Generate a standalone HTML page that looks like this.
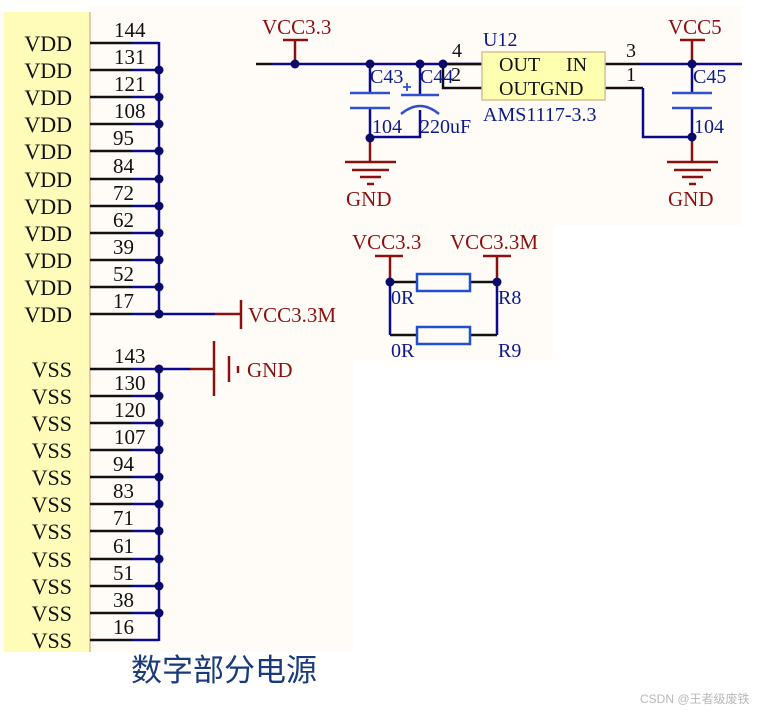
<!DOCTYPE html>
<html><head><meta charset="utf-8"><style>
html,body{margin:0;padding:0;background:#fff;width:777px;height:712px;overflow:hidden}
svg{display:block}
.s{font-family:"Liberation Serif",serif}
</style></head><body>
<svg width="777" height="712" viewBox="0 0 777 712" xmlns="http://www.w3.org/2000/svg">
<rect x="0" y="12" width="353" height="640" fill="#fffcf8"/>
<rect x="90" y="6" width="652" height="219" fill="#fffcf8"/>
<rect x="353" y="225" width="200" height="135" fill="#fffcf8"/>
<rect x="4" y="12" width="86" height="640" fill="#fffbb8"/>
<line x1="90" y1="12" x2="90" y2="652" stroke="#e0b890" stroke-width="1.5"/>

<g class="s" font-size="22" fill="#111" text-anchor="end">
<text x="72" y="51">VDD</text><text x="72" y="78">VDD</text><text x="72" y="105">VDD</text><text x="72" y="132">VDD</text><text x="72" y="159">VDD</text><text x="72" y="187">VDD</text><text x="72" y="214">VDD</text><text x="72" y="241">VDD</text><text x="72" y="268">VDD</text><text x="72" y="295">VDD</text><text x="72" y="322">VDD</text>
<text x="72" y="377">VSS</text><text x="72" y="404">VSS</text><text x="72" y="431">VSS</text><text x="72" y="458">VSS</text><text x="72" y="485">VSS</text><text x="72" y="512">VSS</text><text x="72" y="539">VSS</text><text x="72" y="567">VSS</text><text x="72" y="594">VSS</text><text x="72" y="621">VSS</text><text x="72" y="648">VSS</text>
</g>
<g class="s" font-size="21" fill="#111">
<text x="114" y="37">144</text><text x="114" y="64">131</text><text x="114" y="91">121</text><text x="114" y="118">108</text><text x="113" y="145">95</text><text x="113" y="173">84</text><text x="113" y="200">72</text><text x="113" y="227">62</text><text x="113" y="254">39</text><text x="113" y="281">52</text><text x="113" y="308">17</text>
<text x="114" y="363">143</text><text x="114" y="390">130</text><text x="114" y="417">120</text><text x="114" y="444">107</text><text x="113" y="471">94</text><text x="113" y="498">83</text><text x="113" y="525">71</text><text x="113" y="553">61</text><text x="113" y="580">51</text><text x="113" y="607">38</text><text x="113" y="634">16</text>
</g>
<g stroke-width="2.5">
<g stroke="#111">
<path d="M90 43H132M90 70H132M90 97H132M90 124H132M90 151H132M90 179H132M90 206H132M90 233H132M90 260H132M90 287H132M90 314H132M90 369H132M90 396H132M90 423H132M90 450H132M90 477H132M90 504H132M90 531H132M90 559H132M90 586H132M90 613H132M90 640H132"/>
</g>
<g stroke="#0a0a8a" fill="none">
<path d="M132 43H159M132 70H159M132 97H159M132 124H159M132 151H159M132 179H159M132 206H159M132 233H159M132 260H159M132 287H159M132 314H159M132 369H159M132 396H159M132 423H159M132 450H159M132 477H159M132 504H159M132 531H159M132 559H159M132 586H159M132 613H159M132 640H159"/>
<path d="M159 42V314M159 369V641M159 314H215M159 369H190"/>
</g>
</g>
<g fill="#0a0a6a">
<circle cx="159" cy="70" r="4.5"/><circle cx="159" cy="97" r="4.5"/><circle cx="159" cy="124" r="4.5"/><circle cx="159" cy="151" r="4.5"/><circle cx="159" cy="179" r="4.5"/><circle cx="159" cy="206" r="4.5"/><circle cx="159" cy="233" r="4.5"/><circle cx="159" cy="260" r="4.5"/><circle cx="159" cy="287" r="4.5"/><circle cx="159" cy="314" r="4.5"/>
<circle cx="159" cy="369" r="4.5"/><circle cx="159" cy="396" r="4.5"/><circle cx="159" cy="423" r="4.5"/><circle cx="159" cy="450" r="4.5"/><circle cx="159" cy="477" r="4.5"/><circle cx="159" cy="504" r="4.5"/><circle cx="159" cy="531" r="4.5"/><circle cx="159" cy="559" r="4.5"/><circle cx="159" cy="586" r="4.5"/><circle cx="159" cy="613" r="4.5"/>
</g>
<g stroke="#8b1010" stroke-width="2.5" fill="none">
<path d="M215 314H241M241 300V329"/>
<path d="M190 369H214M214 341V396M229 356V382M238 366V373"/>
</g>
<g class="s" font-size="21" fill="#8b1010">
<text x="248" y="322">VCC3.3M</text>
<text x="247" y="377">GND</text>
</g>

<g stroke-width="2.5" fill="none">
<path d="M256 64H272" stroke="#111"/>
<path d="M272 64H482" stroke="#0a0a8a"/>
<path d="M443 64H482M443 64V88H482M605 64H640M605 88H643" stroke="#111"/>
<path d="M640 64H742M643 88V137H692M370 64V93M370 108V137H420V110M420 64V95M692 64V93M692 108V137" stroke="#0a0a8a"/>
</g>
<g stroke="#3050d0" stroke-width="2.5" fill="none">
<path d="M350 93H390M350 108H390M401 95H439M672 93H712M672 108H712"/>
<path d="M401 114Q420 98 439 114"/>
<path d="M403 87H411M407 83V91" stroke-width="1.8"/>
</g>
<g stroke="#8b1010" stroke-width="2.5" fill="none">
<path d="M283 40H308M295 40V64M680 40H705M692 40V64"/>
<path d="M370 138V162M345 162H396M352 170H389M360 177H381M367 184H374"/>
<path d="M692 138V162M667 162H718M674 170H711M682 177H703M689 184H696"/>
</g>
<g fill="#0a0a6a">
<circle cx="295" cy="64" r="4.5"/><circle cx="370" cy="64" r="4.5"/><circle cx="420" cy="64" r="4.5"/><circle cx="443" cy="64" r="4.5"/><circle cx="370" cy="138" r="4.5"/><circle cx="692" cy="64" r="4.5"/><circle cx="692" cy="137" r="4.5"/>
</g>
<rect x="482" y="52" width="123" height="48" fill="#ffffb0" stroke="#d8c090" stroke-width="1.5"/>
<g class="s" font-size="20" fill="#111">
<text x="499" y="71">OUT</text><text x="566" y="71">IN</text><text x="499" y="95">OUTGND</text>
<text x="452" y="57">4</text><text x="451" y="81">2</text><text x="626" y="57">3</text><text x="626" y="81">1</text>
</g>
<g class="s" font-size="20" fill="#0a1a8a">
<text x="483" y="46">U12</text>
<text x="483" y="121">AMS1117-3.3</text>
<text x="370" y="83">C43</text><text x="420" y="83">C44</text><text x="693" y="83">C45</text>
<text x="372" y="133">104</text><text x="420" y="133">220uF</text><text x="694" y="133">104</text>
</g>
<g class="s" font-size="21" fill="#8b1010">
<text x="262" y="34">VCC3.3</text><text x="668" y="34">VCC5</text>
<text x="346" y="206">GND</text><text x="668" y="206">GND</text>
<text x="352" y="249">VCC3.3</text><text x="450" y="249">VCC3.3M</text>
</g>

<g stroke="#8b1010" stroke-width="2.5" fill="none"><path d="M375 256H403M390 256V282M483 256H511M497 256V282"/></g>
<g stroke-width="2.5" fill="none">
<path d="M390 282H417M470 282H497M390 335H417M470 335H497" stroke="#111"/>
<path d="M390 282V335M497 282V335" stroke="#0a0a8a"/>
<rect x="417" y="274" width="53" height="17" stroke="#2050d0"/>
<rect x="417" y="327" width="53" height="17" stroke="#2050d0"/>
</g>
<circle cx="390" cy="282" r="4.5" fill="#0a0a6a"/><circle cx="497" cy="282" r="4.5" fill="#0a0a6a"/>
<g class="s" font-size="20" fill="#0a1a8a">
<text x="391" y="304">0R</text><text x="498" y="304">R8</text><text x="391" y="357">0R</text><text x="498" y="357">R9</text>
</g>

<text x="131" y="681" font-family="'Noto Sans CJK SC',sans-serif" font-size="31" fill="#1a3a7a">数字部分电源</text>
<text x="640" y="703" font-family="'Liberation Sans','Noto Sans CJK SC',sans-serif" font-size="12" fill="#b8b8b8">CSDN @王者级废铁</text>
</svg>
</body></html>
